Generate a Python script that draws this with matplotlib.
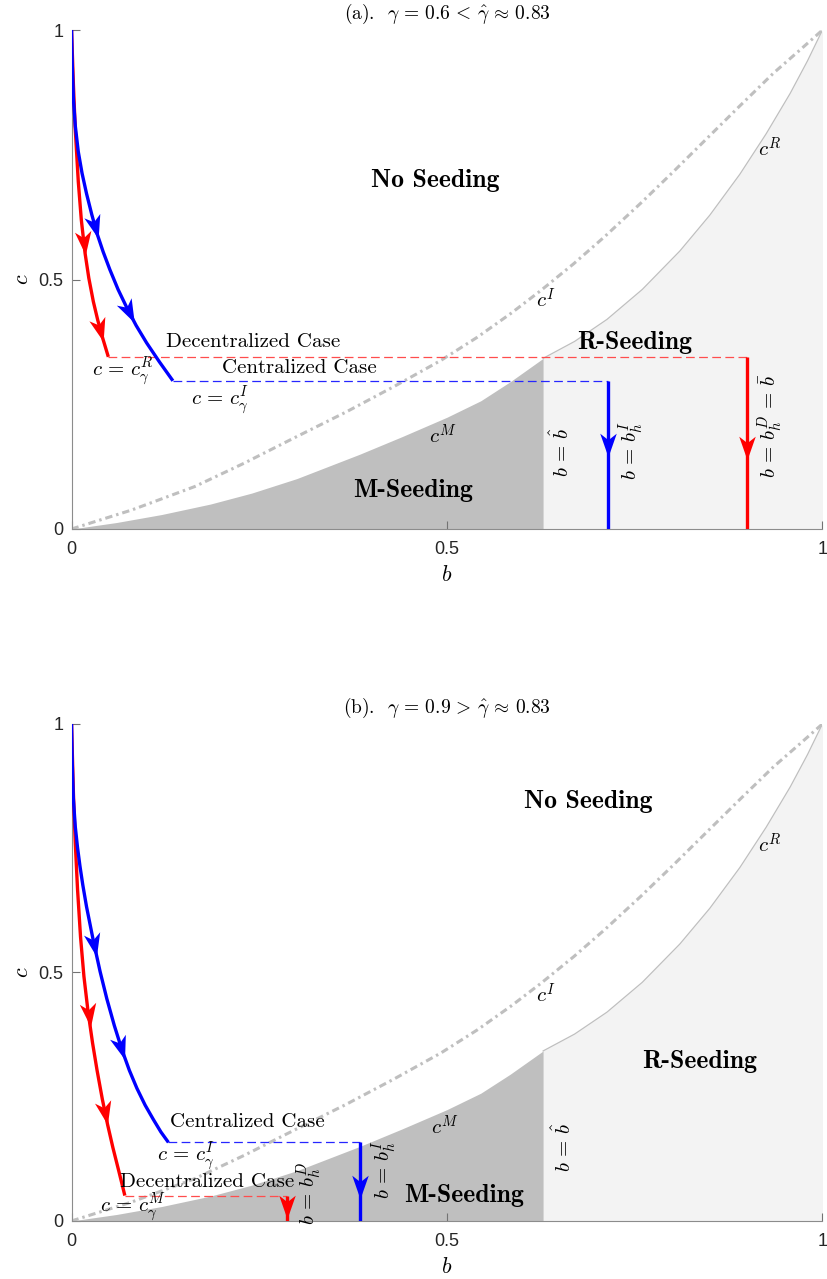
import numpy as np
import matplotlib.pyplot as plt
from matplotlib.markers import MarkerStyle
from matplotlib.path import Path
from matplotlib.transforms import Affine2D

plt.rcParams["mathtext.fontset"] = "cm"
plt.rcParams["font.family"] = ["Liberation Sans", "DejaVu Sans"]

# boundary curves (same in both panels)
b_R = [0.628, 0.670, 0.713, 0.760, 0.810, 0.850, 0.890, 0.925, 0.957, 0.980, 1.0]
c_R = [0.342, 0.376, 0.420, 0.480, 0.557, 0.629, 0.711, 0.792, 0.873, 0.938, 1.0]
b_I = [0.0, 0.080, 0.164, 0.230, 0.297, 0.365, 0.430, 0.492, 0.540, 0.585, 0.625,
       0.669, 0.710, 0.758, 0.800, 0.847, 0.890, 0.935, 0.970, 1.0]
c_I = [0.0, 0.038, 0.085, 0.132, 0.183, 0.234, 0.286, 0.338, 0.384, 0.432, 0.478,
       0.532, 0.586, 0.653, 0.714, 0.784, 0.848, 0.914, 0.960, 1.0]
b_M = [0.0, 0.060, 0.120, 0.185, 0.240, 0.300, 0.384, 0.440, 0.500, 0.545, 0.584, 0.628]
c_M = [0.0, 0.013, 0.029, 0.050, 0.072, 0.101, 0.150, 0.185, 0.224, 0.257, 0.295, 0.342]
b_hat = 0.628

# panel (a): gamma = 0.6
a_red_b = [0.0, 0.0025, 0.005, 0.009, 0.013, 0.018, 0.023, 0.029, 0.035, 0.042, 0.049]
a_red_c = [1.0, 0.890, 0.800, 0.696, 0.620, 0.553, 0.503, 0.456, 0.418, 0.380, 0.345]
a_blue_b = [0.0, 0.001, 0.0025, 0.005, 0.009, 0.014, 0.020, 0.027, 0.034, 0.042, 0.051,
            0.062, 0.0735, 0.086, 0.100, 0.117, 0.135]
a_blue_c = [1.0, 0.930, 0.862, 0.808, 0.756, 0.713, 0.672, 0.630, 0.592, 0.556, 0.520,
            0.480, 0.444, 0.408, 0.373, 0.335, 0.297]
a_bhD, a_cD = 0.899, 0.345
a_bhI, a_cI = 0.714, 0.297

# panel (b): gamma = 0.9
b_red_b = [0.0, 0.0025, 0.005, 0.008, 0.012, 0.0165, 0.022, 0.028, 0.034, 0.041,
           0.048, 0.055, 0.063, 0.071]
b_red_c = [1.0, 0.860, 0.760, 0.667, 0.571, 0.492, 0.421, 0.358, 0.303, 0.245,
           0.194, 0.148, 0.100, 0.051]
b_blue_b = [0.0, 0.001, 0.0024, 0.005, 0.008, 0.0113, 0.015, 0.020, 0.029, 0.038,
            0.047, 0.057, 0.067, 0.077, 0.087, 0.098, 0.109, 0.119, 0.129]
b_blue_c = [1.0, 0.920, 0.850, 0.793, 0.751, 0.713, 0.676, 0.632, 0.564, 0.502,
            0.447, 0.393, 0.345, 0.303, 0.267, 0.233, 0.204, 0.179, 0.158]
b_bhD, b_cD = 0.2865, 0.051
b_bhI, b_cI = 0.384, 0.158

RED = (1, 0, 0)
BLUE = (0, 0, 1)
DARK = (0.75, 0.75, 0.75)
LIGHT = (0.953, 0.953, 0.953)
SERIF = "cmr10"
BOLD = "cmb10"
MATH = 15
HEAD = Path([(1, 0), (-1, 0.7), (-0.45, 0), (-1, -0.7), (1, 0)],
            [Path.MOVETO, Path.LINETO, Path.LINETO, Path.LINETO, Path.CLOSEPOLY])


def arrow_on(ax, bs, cs, c_at, color):
    # notched arrowhead centred on a curve, pointing down along it
    cs_r, bs_r = np.array(cs)[::-1], np.array(bs)[::-1]
    b0 = np.interp(c_at, cs_r, bs_r)
    b1 = np.interp(c_at + 0.02, cs_r, bs_r)
    p0 = ax.transData.transform((b0, c_at))
    p1 = ax.transData.transform((b1, c_at + 0.02))
    ang = np.degrees(np.arctan2(p0[1] - p1[1], p0[0] - p1[0]))
    m = MarkerStyle(HEAD, transform=Affine2D().rotate_deg(ang))
    ax.plot(b0, c_at, marker=m, ms=17, color=color, mew=0, zorder=5)


def draw_panel(ax, red_b, red_c, blue_b, blue_c, bhD, cD, bhI, cI):
    ax.set_xlim(0, 1)
    ax.set_ylim(0, 1)
    ax.fill_between(b_R, 0, c_R, color=LIGHT, lw=0, zorder=1)
    ax.fill_between(b_M, 0, c_M, color=DARK, lw=0, zorder=1)
    ax.plot(b_R, c_R, color=DARK, lw=0.9, zorder=2)
    ax.plot(b_I, c_I, color=DARK, lw=2.2, ls=(0, (2.4, 1.3, 0.8, 1.3)), zorder=2)

    ax.plot([red_b[-1], bhD], [cD, cD], color=(1, 0.3, 0.3), lw=0.9, ls=(0, (7, 3.5)), zorder=3)
    ax.plot([blue_b[-1], bhI], [cI, cI], color=(0.15, 0.15, 1), lw=0.9, ls=(0, (7, 3.5)), zorder=3)
    for xs, ys, col in [(red_b, red_c, RED), (blue_b, blue_c, BLUE),
                        ([bhD, bhD], [cD, 0], RED), ([bhI, bhI], [cI, 0], BLUE)]:
        ax.plot(xs, ys, color=col, lw=2.4, zorder=4, solid_capstyle="butt",
                solid_joinstyle="round")

    ax.set_xticks([0, 0.5, 1])
    ax.set_yticks([0, 0.5, 1])
    ax.set_xticklabels(["0", "0.5", "1"])
    ax.set_yticklabels(["0", "0.5", "1"])
    ax.tick_params(direction="in", length=6, width=0.8, colors=(0.45, 0.45, 0.45),
                   labelcolor=(0.15, 0.15, 0.15), labelsize=13)
    ax.tick_params(axis="x", pad=9)
    ax.tick_params(axis="y", pad=6)
    for s in ["top", "right"]:
        ax.spines[s].set_visible(False)
    for s in ["left", "bottom"]:
        ax.spines[s].set_color((0.55, 0.55, 0.55))
        ax.spines[s].set_linewidth(0.8)
    ax.set_xlabel("$b$", fontsize=16, labelpad=5)
    ax.set_ylabel("$c$", fontsize=16, labelpad=4)


def label(ax, x, y, s, **kw):
    kw.setdefault("fontsize", MATH)
    ax.text(x, y, s, ha="center", va="center", zorder=6, **kw)


fig = plt.figure(figsize=(8.27, 12.79), dpi=100)
ax1 = fig.add_axes([0.0865, 0.5864, 0.908, 0.3901])
ax2 = fig.add_axes([0.0865, 0.0454, 0.908, 0.3886])

# ---- panel (a)
draw_panel(ax1, a_red_b, a_red_c, a_blue_b, a_blue_c, a_bhD, a_cD, a_bhI, a_cI)
for cc in [0.573, 0.399]:
    arrow_on(ax1, a_red_b, a_red_c, cc, RED)
for cc in [0.605, 0.435]:
    arrow_on(ax1, a_blue_b, a_blue_c, cc, BLUE)
arrow_on(ax1, [a_bhI, a_bhI], [a_cI, 0], 0.168, BLUE)
arrow_on(ax1, [a_bhD, a_bhD], [a_cD, 0], 0.162, RED)

ax1.set_title(r"(a).  $\gamma\,=\,0.6\,<\,\hat{\gamma}\,\approx\,0.83$", fontfamily=SERIF,
              fontsize=14, pad=8)
label(ax1, 0.485, 0.699, "No Seeding", fontfamily=BOLD, fontsize=18.5)
label(ax1, 0.750, 0.373, "R-Seeding", fontfamily=BOLD, fontsize=18.5)
label(ax1, 0.455, 0.078, "M-Seeding", fontfamily=BOLD, fontsize=18.5)
label(ax1, 0.242, 0.374, "Decentralized Case", fontfamily=SERIF, fontsize=15)
label(ax1, 0.304, 0.323, "Centralized Case", fontfamily=SERIF, fontsize=15)
label(ax1, 0.069, 0.316, r"$c\,=\,c_\gamma^R$")
label(ax1, 0.198, 0.257, r"$c\,=\,c_\gamma^I$")
label(ax1, 0.929, 0.762, r"$c^R$")
label(ax1, 0.631, 0.459, r"$c^I$")
label(ax1, 0.495, 0.186, r"$c^M$")
label(ax1, 0.652, 0.153, r"$b\,=\,\hat{b}$", rotation=90)
label(ax1, 0.746, 0.158, r"$b\,=\,b_h^I$", rotation=90)
label(ax1, 0.931, 0.207, r"$b\,=\,b_h^D\,=\,\bar{b}$", rotation=90)

# ---- panel (b)
draw_panel(ax2, b_red_b, b_red_c, b_blue_b, b_blue_c, b_bhD, b_cD, b_bhI, b_cI)
for cc in [0.414, 0.217]:
    arrow_on(ax2, b_red_b, b_red_c, cc, RED)
for cc in [0.555, 0.348]:
    arrow_on(ax2, b_blue_b, b_blue_c, cc, BLUE)
arrow_on(ax2, [b_bhI, b_bhI], [b_cI, 0], 0.068, BLUE)
arrow_on(ax2, [b_bhD, b_bhD], [b_cD, 0], 0.028, RED)

ax2.set_title(r"(b).  $\gamma\,=\,0.9\,>\,\hat{\gamma}\,\approx\,0.83$", fontfamily=SERIF,
              fontsize=14, pad=8)
label(ax2, 0.688, 0.843, "No Seeding", fontfamily=BOLD, fontsize=18.5)
label(ax2, 0.837, 0.320, "R-Seeding", fontfamily=BOLD, fontsize=18.5)
label(ax2, 0.523, 0.052, "M-Seeding", fontfamily=BOLD, fontsize=18.5)
label(ax2, 0.234, 0.198, "Centralized Case", fontfamily=SERIF, fontsize=15)
label(ax2, 0.180, 0.078, "Decentralized Case", fontfamily=SERIF, fontsize=15)
label(ax2, 0.152, 0.128, r"$c\,=\,c_\gamma^I$")
label(ax2, 0.082, 0.026, r"$c\,=\,c_\gamma^M$")
label(ax2, 0.930, 0.757, r"$c^R$")
label(ax2, 0.632, 0.455, r"$c^I$")
label(ax2, 0.497, 0.189, r"$c^M$")
label(ax2, 0.655, 0.149, r"$b\,=\,\hat{b}$", rotation=90)
label(ax2, 0.317, 0.056, r"$b\,=\,b_h^D$", rotation=90)
label(ax2, 0.416, 0.103, r"$b\,=\,b_h^I$", rotation=90)

fig.savefig("out.png", dpi=100)
